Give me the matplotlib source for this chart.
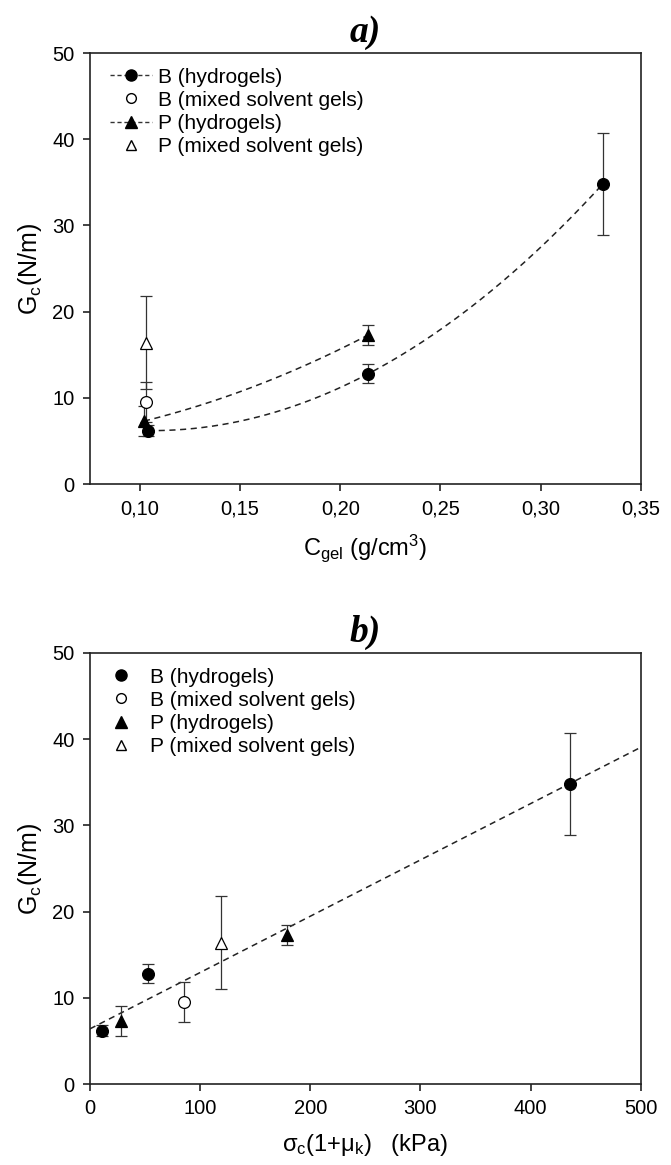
import numpy as np
import matplotlib
matplotlib.use("Agg")
import matplotlib.pyplot as plt
from matplotlib.ticker import FuncFormatter, MultipleLocator

plt.rcParams["font.family"] = ["Liberation Sans", "DejaVu Sans"]
plt.rcParams["mathtext.default"] = "regular"

# --- Данные: концентрация геля, энергия разрушения и погрешности ---
# B (hydrogels)
c_B_hyd = [0.104, 0.214, 0.331]
G_B_hyd = [6.2, 12.8, 34.8]
e_B_hyd = [0.6, 1.1, 5.9]
s_B_hyd = [11, 53, 436]

# B (mixed solvent gels)
c_B_mix = [0.103]
G_B_mix = [9.5]
e_B_mix = [2.3]
s_B_mix = [85]

# P (hydrogels)
c_P_hyd = [0.102, 0.214]
G_P_hyd = [7.3, 17.3]
e_P_hyd = [1.7, 1.2]
s_P_hyd = [28, 179]

# P (mixed solvent gels)
c_P_mix = [0.103]
G_P_mix = [16.4]
e_P_mix = [5.4]
s_P_mix = [119]

LABELS = ["B (hydrogels)", "B (mixed solvent gels)",
          "P (hydrogels)", "P (mixed solvent gels)"]

comma = FuncFormatter(lambda v, p: f"{v:.2f}".replace(".", ","))


def style_axes(ax):
    for sp in ax.spines.values():
        sp.set_linewidth(1.2)
        sp.set_color("#222222")
    ax.tick_params(direction="out", length=5, width=1.2, labelsize=14.5,
                   top=False, right=False, color="#222222", pad=6)
    ax.set_ylim(0, 50)
    ax.yaxis.set_major_locator(MultipleLocator(10))
    ax.set_ylabel("G$_c$(N/m)", fontsize=18, labelpad=6)


def draw_points(ax, x_sets):
    ebkw = dict(ls="none", ecolor="#333333", elinewidth=0.9, capsize=4,
                capthick=0.9, ms=8.5, mec="black", mew=0.9)
    (xbh, xbm, xph, xpm) = x_sets
    ax.errorbar(xbh, G_B_hyd, yerr=e_B_hyd, fmt="o", mfc="black", zorder=3, **ebkw)
    ax.errorbar(xbm, G_B_mix, yerr=e_B_mix, fmt="o", mfc="white", zorder=3, **ebkw)
    ax.errorbar(xph, G_P_hyd, yerr=e_P_hyd, fmt="^", mfc="black", zorder=3, **ebkw)
    ax.errorbar(xpm, G_P_mix, yerr=e_P_mix, fmt="^", mfc="white", zorder=3, **ebkw)


fig = plt.figure(figsize=(6.71, 11.65), dpi=100)
ax1 = fig.add_axes([0.134, 0.5845, 0.821, 0.370])
ax2 = fig.add_axes([0.134, 0.0695, 0.821, 0.370])

# ---- a) G_c от концентрации ----
draw_points(ax1, (c_B_hyd, c_B_mix, c_P_hyd, c_P_mix))

# квадратичная аппроксимация для B, G = a + k*C^2 для P
pB = np.polyfit(c_B_hyd, G_B_hyd, 2)
xB = np.linspace(min(c_B_hyd), max(c_B_hyd), 200)
ax1.plot(xB, np.polyval(pB, xB), ls=(0, (4, 3)), color="#222222", lw=1.1, zorder=2)
pP = np.polyfit(np.array(c_P_hyd) ** 2, G_P_hyd, 1)
xP = np.linspace(min(c_P_hyd), max(c_P_hyd), 200)
ax1.plot(xP, np.polyval(pP, xP ** 2), ls=(0, (4, 3)), color="#222222", lw=1.1, zorder=2)

ax1.set_xlim(0.075, 0.35)
ax1.xaxis.set_major_locator(MultipleLocator(0.05))
ax1.xaxis.set_major_formatter(comma)
style_axes(ax1)
ax1.set_xlabel("C$_{gel}$ (g/cm$^3$)", fontsize=17, labelpad=10)

h1 = [
    plt.Line2D([], [], ls=(0, (3, 2)), lw=1, color="#333333", marker="o", mfc="black", mec="black", ms=8),
    plt.Line2D([], [], ls="none", marker="o", mfc="white", mec="black", ms=7),
    plt.Line2D([], [], ls=(0, (3, 2)), lw=1, color="#333333", marker="^", mfc="black", mec="black", ms=8),
    plt.Line2D([], [], ls="none", marker="^", mfc="white", mec="black", ms=7),
]
ax1.legend(h1, LABELS, loc="upper left", frameon=False, fontsize=15,
           handlelength=2.0, handletextpad=0.3, labelspacing=0.2,
           borderaxespad=0.3, bbox_to_anchor=(0.01, 1.0))
ax1.set_title("a)", fontsize=27, family="Liberation Serif", weight="bold",
              style="italic", pad=8)

# ---- b) G_c от sigma_c(1+mu_k) ----
draw_points(ax2, (s_B_hyd, s_B_mix, s_P_hyd, s_P_mix))

s_all = np.array(s_B_hyd + s_B_mix + s_P_hyd + s_P_mix, dtype=float)
G_all = np.array(G_B_hyd + G_B_mix + G_P_hyd + G_P_mix)
fit = np.polyfit(s_all, G_all, 1)
xs = np.linspace(0, 500, 100)
ax2.plot(xs, np.polyval(fit, xs), ls=(0, (4, 3)), color="#222222", lw=1.1, zorder=2)

ax2.set_xlim(0, 500)
ax2.xaxis.set_major_locator(MultipleLocator(100))
style_axes(ax2)
ax2.set_xlabel("σ$_c$(1+μ$_k$)   (kPa)", fontsize=17, labelpad=10)

h2 = [
    plt.Line2D([], [], ls="none", marker="o", mfc="black", mec="black", ms=8),
    plt.Line2D([], [], ls="none", marker="o", mfc="white", mec="black", ms=7),
    plt.Line2D([], [], ls="none", marker="^", mfc="black", mec="black", ms=8),
    plt.Line2D([], [], ls="none", marker="^", mfc="white", mec="black", ms=7),
]
ax2.legend(h2, LABELS, loc="upper left", frameon=False, fontsize=15,
           handlelength=1.6, handletextpad=0.6, labelspacing=0.2,
           borderaxespad=0.3, bbox_to_anchor=(0.0, 1.0))
ax2.set_title("b)", fontsize=27, family="Liberation Serif", weight="bold",
              style="italic", pad=8)

fig.savefig("out.png", dpi=100)
